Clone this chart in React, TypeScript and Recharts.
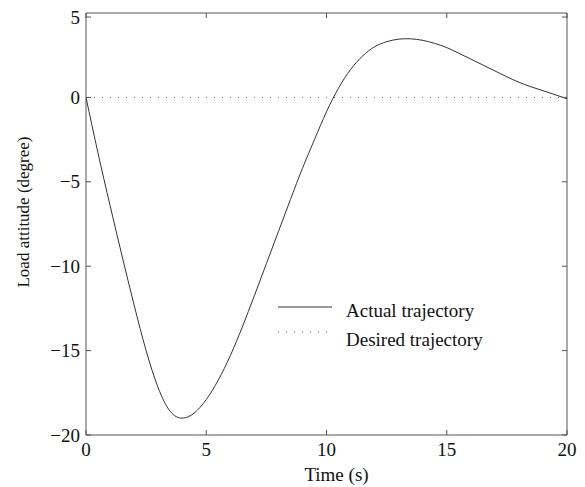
import { Line, LineChart, XAxis, YAxis, Legend, ReferenceArea } from "recharts";

const time = [0, 0.5, 1, 1.5, 2, 2.5, 3, 3.5, 4, 4.5, 5, 5.5, 6, 6.5, 7, 7.5, 8, 8.5, 9, 9.5, 10, 10.5, 11, 11.5, 12, 12.5, 13, 13.5, 14, 14.5, 15, 15.5, 16, 16.5, 17, 17.5, 18, 18.5, 19, 19.5, 20];
const actual = [0, -3.3, -6.4, -9.4, -12.3, -15.0, -17.2, -18.6, -19.0, -18.7, -17.9, -16.75, -15.3, -13.6, -11.75, -9.85, -7.95, -6.05, -4.2, -2.5, -0.85, 0.55, 1.65, 2.45, 3.0, 3.3, 3.45, 3.47, 3.38, 3.2, 2.95, 2.62, 2.27, 1.92, 1.57, 1.22, 0.9, 0.63, 0.4, 0.16, -0.08];
const desired = [0, 0, 0, 0, 0, 0, 0, 0, 0, 0, 0, 0, 0, 0, 0, 0, 0, 0, 0, 0, 0, 0, 0, 0, 0, 0, 0, 0, 0, 0, 0, 0, 0, 0, 0, 0, 0, 0, 0, 0, 0];
const xTicks = [0, 5, 10, 15, 20];
const yTicks = [-20, -15, -10, -5, 0, 5];

const data = time.map((t, i) => ({ t, actual: actual[i], desired: desired[i] }));

const W = 577;
const H = 479;
const PLOT_TOP = 5;
const PLOT_LEFT = 78;
const PLOT_RIGHT = 559;
const PLOT_BOTTOM = 427;
const FONT = "'Liberation Serif', 'Times New Roman', serif";
const fmt = (v: number) => (v < 0 ? "\u2212" + Math.abs(v) : String(v));

const XTick = ({ x, y, payload }: any) => (
  <g>
    <line x1={x} y1={y} x2={x} y2={y - 5} stroke="#555" />
    <line x1={x} y1={PLOT_TOP} x2={x} y2={PLOT_TOP + 5} stroke="#555" />
    <text x={x} y={y + 21} textAnchor="middle" fontFamily={FONT} fontSize={19} fill="#111">
      {fmt(payload.value)}
    </text>
  </g>
);

const YTick = ({ x, y, payload }: any) => (
  <g>
    <line x1={x} y1={y} x2={x + 5} y2={y} stroke="#555" />
    <line x1={PLOT_RIGHT} y1={y} x2={PLOT_RIGHT - 5} y2={y} stroke="#555" />
    <text x={x - 6} y={y} textAnchor="end" dominantBaseline="central" fontFamily={FONT} fontSize={19} fill="#111">
      {fmt(payload.value)}
    </text>
  </g>
);

const LegendBox = () => (
  <svg width={230} height={64}>
    <line x1={8} y1={17} x2={62} y2={17} stroke="#333" strokeWidth={1} />
    <text x={76} y={27} fontFamily={FONT} fontSize={19} fill="#111">Actual trajectory</text>
    <line x1={8} y1={42} x2={62} y2={42} stroke="#555" strokeWidth={1} strokeDasharray="1 7" />
    <text x={76} y={56} fontFamily={FONT} fontSize={19} fill="#111">Desired trajectory</text>
  </svg>
);

export default function App() {
  return (
    <div style={{ width: W, height: H }}>
      <LineChart width={W} height={H} data={data} margin={{ top: PLOT_TOP, right: W - PLOT_RIGHT, left: 0, bottom: 0 }} style={{ fontFamily: FONT }}>
        <XAxis
          dataKey="t"
          type="number"
          domain={[0, 20]}
          ticks={xTicks}
          height={H - PLOT_BOTTOM}
          tickSize={0}
          tickMargin={0}
          tickLine={false}
          axisLine={false}
          tick={XTick}
          allowDataOverflow
          label={({ viewBox }: any) => (
            <text x={viewBox.x + viewBox.width / 2 + 10} y={viewBox.y + 46} textAnchor="middle" fontFamily={FONT} fontSize={19} fill="#111">
              Time (s)
            </text>
          )}
        />
        <YAxis
          type="number"
          domain={[-20, 5]}
          ticks={yTicks}
          width={PLOT_LEFT}
          tickSize={0}
          tickMargin={0}
          tickLine={false}
          axisLine={false}
          tick={YTick}
          allowDataOverflow
          label={({ viewBox }: any) => {
            const cy = viewBox.y + viewBox.height / 2 - 12;
            return (
              <text x={21} y={cy} transform={`rotate(-90, 21, ${cy})`} textAnchor="middle" fontFamily={FONT} fontSize={17} fill="#111">
                Load attitude (degree)
              </text>
            );
          }}
        />
        <ReferenceArea x1={0} x2={20} y1={-20} y2={5} fill="none" stroke="#555" strokeWidth={1} ifOverflow="visible" />
        <Line dataKey="desired" type="linear" stroke="#555" strokeWidth={1} strokeDasharray="1 7" dot={false} isAnimationActive={false} />
        <Line dataKey="actual" type="natural" stroke="#333" strokeWidth={1} dot={false} isAnimationActive={false} />
        <Legend layout="vertical" align="center" verticalAlign="middle" wrapperStyle={{ left: 262, top: 282, width: 230 }} content={LegendBox} />
      </LineChart>
    </div>
  );
}
